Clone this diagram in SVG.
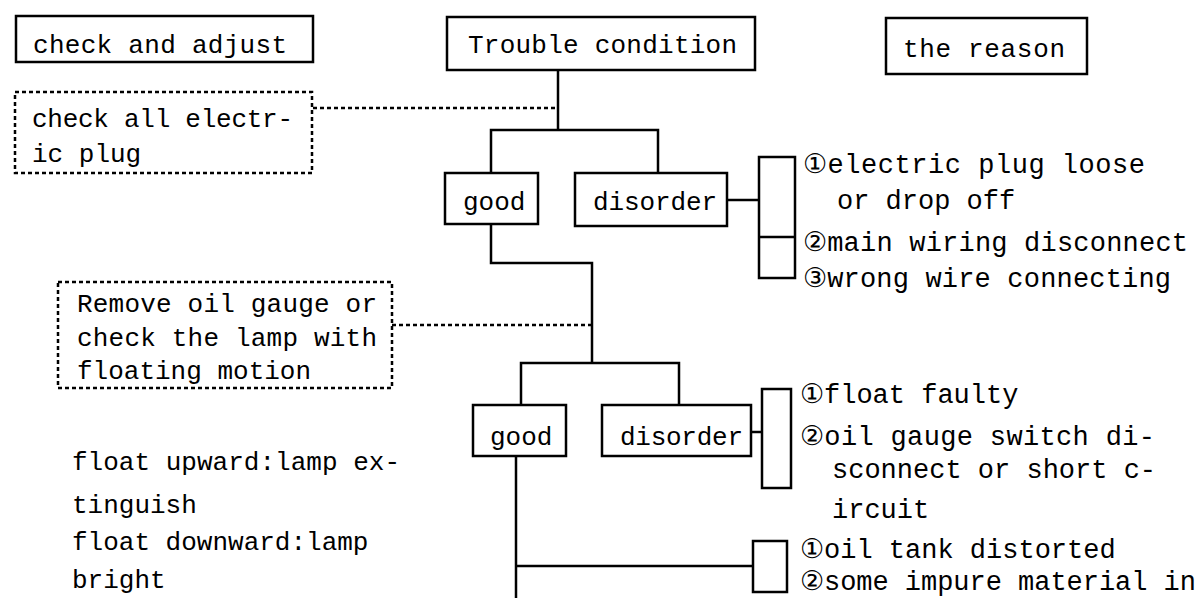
<svg xmlns="http://www.w3.org/2000/svg" width="1204" height="598" viewBox="0 0 1204 598">
<style>
.bg{fill:#fff}
.box{fill:#fff;stroke:#000;stroke-width:2.5}
.dbox{fill:#fff;stroke:#000;stroke-width:2.5;stroke-dasharray:4 3}
.ln{fill:none;stroke:#000;stroke-width:2.5}
.dl{fill:none;stroke:#000;stroke-width:2.5;stroke-dasharray:4 3}
.t{font-family:"Liberation Mono","DejaVu Sans Mono",monospace;font-size:26px;fill:#000}
.r{font-family:"Liberation Mono","DejaVu Sans Mono",monospace;font-size:27px;fill:#000}
</style>
<rect class="bg" x="0" y="0" width="1204" height="598"/>
<g id="connectors">
<line class="dl" x1="313" y1="108" x2="558" y2="108"/>
<polyline class="ln" points="558,70 558,130"/>
<polyline class="ln" points="491,173 491,130 658,130 658,173"/>
<line class="ln" x1="727" y1="200" x2="759" y2="200"/>
<polyline class="ln" points="491,224 491,263 592,263 592,363"/>
<line class="dl" x1="392" y1="325" x2="592" y2="325"/>
<polyline class="ln" points="521,405 521,363 679,363 679,405"/>
<line class="ln" x1="751" y1="432" x2="762" y2="432"/>
<line class="ln" x1="516" y1="456" x2="516" y2="598"/>
<line class="ln" x1="516" y1="566" x2="753" y2="566"/>
</g>
<g id="check-and-adjust">
<rect class="box" x="16" y="16" width="297" height="46"/>
<text class="t" x="33" y="53" textLength="254">check and adjust</text>
</g>
<g id="trouble-condition">
<rect class="box" x="447" y="17" width="308" height="53"/>
<text class="t" x="468" y="53" textLength="269">Trouble condition</text>
</g>
<g id="the-reason">
<rect class="box" x="886" y="18" width="201" height="56"/>
<text class="t" x="903" y="57" textLength="162">the reason</text>
</g>
<g id="check-plug">
<rect class="dbox" x="15" y="92" width="297" height="81"/>
<text class="t" x="32" y="127" textLength="261">check all electr-</text>
<text class="t" x="32" y="162">ic plug</text>
</g>
<g id="good-1">
<rect class="box" x="445" y="173" width="93" height="51"/>
<text class="t" x="463" y="210">good</text>
</g>
<g id="disorder-1">
<rect class="box" x="575" y="173" width="152" height="53"/>
<text class="t" x="593" y="210" textLength="124">disorder</text>
</g>
<g id="bracket-1">
<rect class="box" x="759" y="157" width="36" height="121"/>
<line class="ln" x1="759" y1="237" x2="795" y2="237"/>
</g>
<g id="reasons-1">
<text class="r" x="803" y="173" textLength="342">①electric plug loose</text>
<text class="r" x="837" y="209">or drop off</text>
<text class="r" x="803" y="251" textLength="385">②main wiring disconnect</text>
<text class="r" x="803" y="287" textLength="368">③wrong wire connecting</text>
</g>
<g id="remove-gauge">
<rect class="dbox" x="58" y="282" width="334" height="106"/>
<text class="t" x="77" y="312" textLength="300">Remove oil gauge or</text>
<text class="t" x="77" y="346" textLength="300">check the lamp with</text>
<text class="t" x="77" y="379">floating motion</text>
</g>
<g id="good-2">
<rect class="box" x="473" y="405" width="93" height="51"/>
<text class="t" x="490" y="445">good</text>
</g>
<g id="disorder-2">
<rect class="box" x="602" y="405" width="149" height="51"/>
<text class="t" x="620" y="445" textLength="123">disorder</text>
</g>
<g id="bracket-2">
<rect class="box" x="762" y="389" width="29" height="99"/>
</g>
<g id="reasons-2">
<text class="r" x="800" y="403">①float faulty</text>
<text class="r" x="800" y="445" textLength="355">②oil gauge switch di-</text>
<text class="r" x="832" y="478">sconnect or short c-</text>
<text class="r" x="832" y="518">ircuit</text>
</g>
<g id="bracket-3">
<rect class="box" x="753" y="541" width="34" height="51"/>
</g>
<g id="reasons-3">
<text class="r" x="800" y="558">①oil tank distorted</text>
<text class="r" x="800" y="590" textLength="396">②some impure material in</text>
</g>
<g id="float-note">
<text class="t" x="72" y="470" textLength="328">float upward:lamp ex-</text>
<text class="t" x="72" y="513">tinguish</text>
<text class="t" x="72" y="550">float downward:lamp</text>
<text class="t" x="72" y="588">bright</text>
</g>
</svg>
